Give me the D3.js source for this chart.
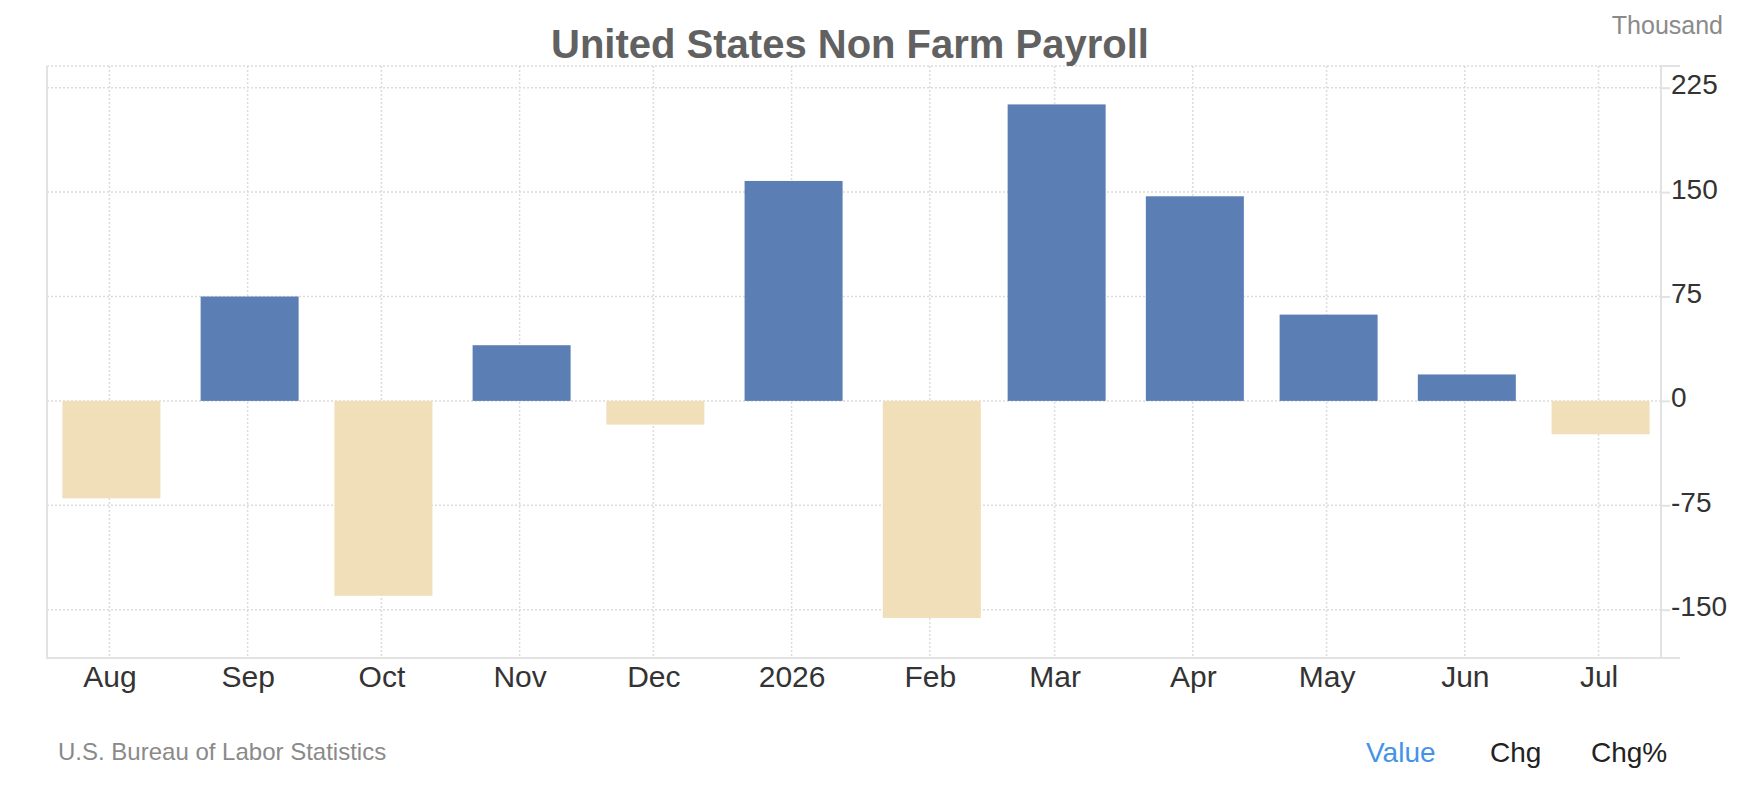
<!DOCTYPE html>
<meta charset="utf-8">

<head>

	<title> United States Non Farm Payroll </title>

	<style>
		body {
			margin: 0;
			background: #fff;
		}
		text {
			font-family: "Liberation Sans", Arial, Helvetica, sans-serif;
		}
		.grid line {
			stroke: #dcdcdc;
			stroke-width: 1.5px;
			stroke-dasharray: 2,2;
		}
		.frame {
			stroke: #e2e2e2;
			stroke-width: 2px;
			fill: none;
		}
		.axis path {
			display: none;
		}
		.axis line {
			stroke: #e2e2e2;
			stroke-width: 2px;
		}
		.axis text {
			fill: #333;
		}
	</style>

</head>

<body>
  <div class="container"> </div>
</body>

<script src="https://cdnjs.cloudflare.com/ajax/libs/d3/7.8.5/d3.min.js"></script>

<script type="text/javascript">

	// Chart values (thousand jobs, one bar per month)
	var months = ["2025-08-01", "2025-09-01", "2025-10-01", "2025-11-01", "2025-12-01", "2026-01-01",
		"2026-02-01", "2026-03-01", "2026-04-01", "2026-05-01", "2026-06-01", "2026-07-01"];
	var values = [-70, 75, -140, 40, -17, 158, -156, 213, 147, 62, 19, -24];
	var yTicks = [-150, -75, 0, 75, 150, 225];
	var legendItems = ["Value", "Chg", "Chg%"];

	// Container width/height
	var width = 1751;
	var height = 803;

	// Plot box (window.top is reserved, so plotTop)
	var plotLeft = 47, plotRight = 1661, plotTop = 66, plotBottom = 658;

	var parse = d3.timeParse("%Y-%m-%d");
	var dates = months.map(parse);

	var svg = d3.select(".container").append("svg")
		.attr("width", width)
		.attr("height", height);

	var x = d3.scaleTime()
		.domain([d3.timeDay.offset(dates[0], -14), d3.timeDay.offset(dates[dates.length - 1], 14)])
		.range([plotLeft, plotRight]);

	var y = d3.scaleLinear()
		.domain([-150, 225])
		.range([609.7, 87.7]);

	// Dotted grid
	var grid = svg.append("g").attr("class", "grid");
	grid.selectAll("line.h")
		.data(yTicks)
		.enter()
		.append("line")
		.attr("class", "h")
		.attr("x1", plotLeft).attr("x2", plotRight)
		.attr("y1", function (d) { return y(d); })
		.attr("y2", function (d) { return y(d); });
	grid.append("line")
		.attr("class", "t")
		.attr("x1", plotLeft).attr("x2", plotRight)
		.attr("y1", plotTop).attr("y2", plotTop);
	grid.selectAll("line.v")
		.data(dates)
		.enter()
		.append("line")
		.attr("class", "v")
		.attr("x1", function (d) { return x(d); })
		.attr("x2", function (d) { return x(d); })
		.attr("y1", plotTop).attr("y2", plotBottom);

	// Bars
	svg.selectAll("rect.bar")
		.data(values)
		.enter()
		.append("rect")
		.attr("class", "bar")
		.attr("x", function (d, i) { return x(dates[i]) - 47; })
		.attr("width", 98)
		.attr("y", function (d) { return y(Math.max(0, d)); })
		.attr("height", function (d) { return Math.abs(y(d) - y(0)); })
		.attr("fill", function (d) { return d >= 0 ? "#5b7fb5" : "#f0dfb8"; });

	// Solid frame: left, bottom, right axis line
	svg.append("path")
		.attr("class", "frame")
		.attr("d", "M" + plotLeft + "," + plotTop + "V" + plotBottom + "H" + (plotRight + 19));
	svg.append("path")
		.attr("class", "frame")
		.attr("d", "M" + plotRight + "," + plotBottom + "V" + plotTop + "H" + (plotRight + 19));

	// Right value axis (plain hyphen for negatives)
	var yAxis = svg.append("g")
		.attr("class", "axis")
		.attr("transform", "translate(" + plotRight + ",0)")
		.call(d3.axisRight(y).tickValues(yTicks).tickSize(9).tickPadding(1)
			.tickFormat(function (d) { return String(d); }));
	yAxis.selectAll("text")
		.attr("font-size", 28)
		.attr("dy", 6);

	// Month axis
	var fmt = function (d) {
		return d.getMonth() === 0 ? d3.timeFormat("%Y")(d) : d3.timeFormat("%b")(d);
	};
	var xAxis = svg.append("g")
		.attr("class", "axis")
		.attr("transform", "translate(0," + plotBottom + ")")
		.call(d3.axisBottom(x).tickValues(dates).tickFormat(fmt).tickSize(0).tickPadding(0));
	xAxis.selectAll("text")
		.attr("font-size", 30)
		.attr("dy", 29);

	// Title and notes
	svg.append("text")
		.attr("x", 850).attr("y", 58)
		.attr("text-anchor", "middle")
		.attr("font-size", 40)
		.attr("font-weight", "bold")
		.attr("fill", "#616161")
		.text("United States Non Farm Payroll");

	svg.append("text")
		.attr("x", 1723).attr("y", 34)
		.attr("text-anchor", "end")
		.attr("font-size", 25)
		.attr("fill", "#8a8a8a")
		.text("Thousand");

	svg.append("text")
		.attr("x", 58).attr("y", 760)
		.attr("font-size", 24)
		.attr("fill", "#8a8a8a")
		.text("U.S. Bureau of Labor Statistics");

	// Legend-style switches
	var legendX = [1366, 1490, 1591];
	svg.selectAll("text.legend")
		.data(legendItems)
		.enter()
		.append("text")
		.attr("class", "legend")
		.attr("x", function (d, i) { return legendX[i]; })
		.attr("y", 762)
		.attr("font-size", 28)
		.attr("fill", function (d, i) { return i === 0 ? "#4393e6" : "#222"; })
		.text(function (d) { return d; });

</script>

</html>
